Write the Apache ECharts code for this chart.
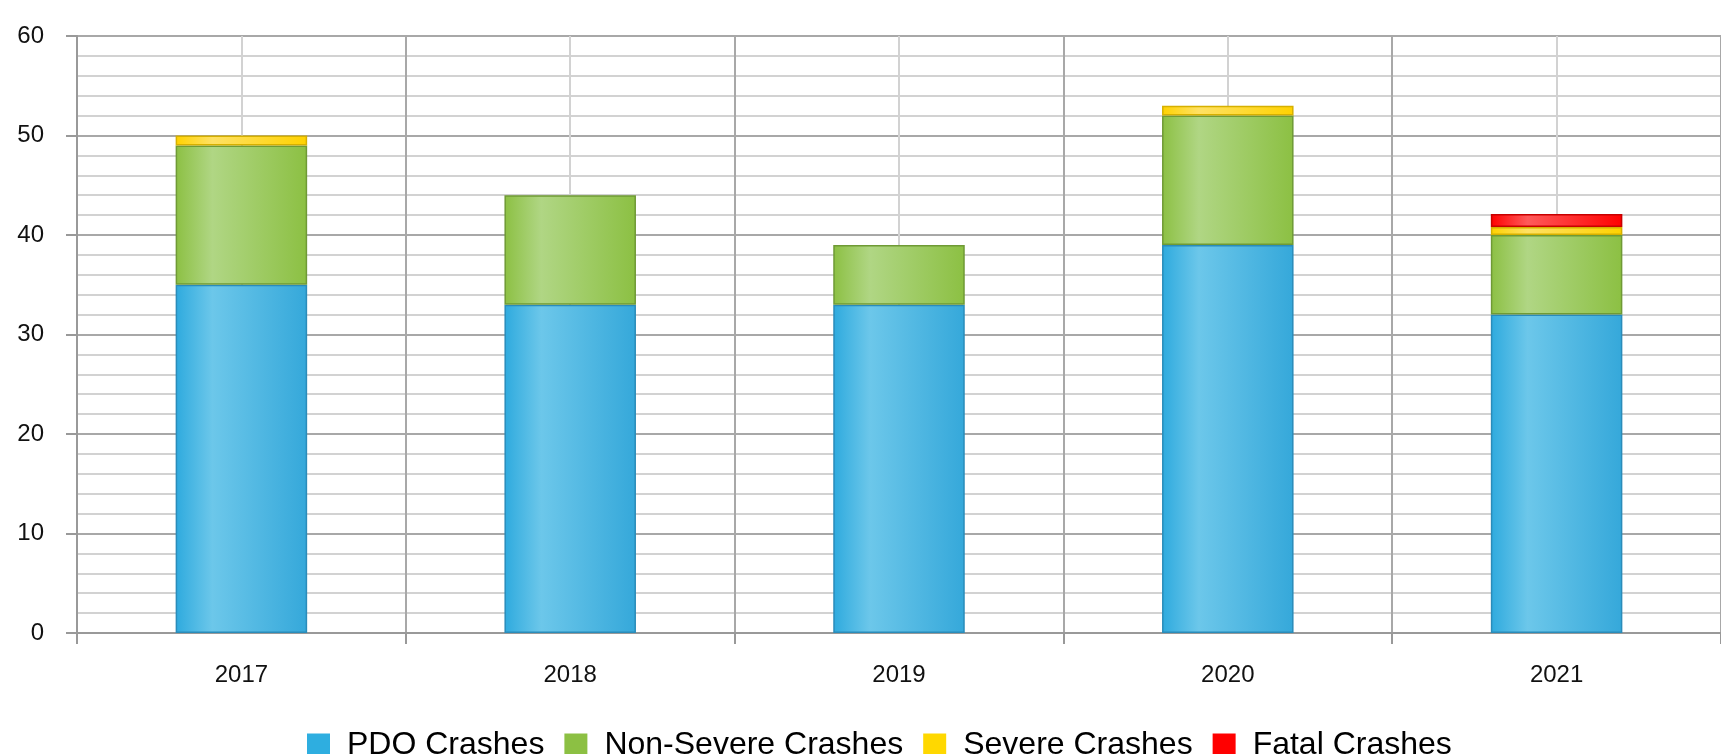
<!DOCTYPE html>
<html>
<head>
<meta charset="utf-8">
<script src="https://cdn.jsdelivr.net/npm/echarts@6/dist/echarts.min.js"></script>
<style>
html,body{margin:0;padding:0;background:#fff;}
#chart{width:1721px;height:754px;}
</style>
</head>
<body>
<div id="chart"></div>
<script>
const years = ['2017', '2018', '2019', '2020', '2021'];
const pdoCrashes = [35, 33, 33, 39, 32];
const nonSevereCrashes = [14, 11, 6, 13, 8];
const severeCrashes = [1, 0, 0, 1, 0.8];
const fatalCrashes = [0, 0, 0, 0, 1.3];
const seriesNames = ['PDO Crashes', 'Non-Severe Crashes', 'Severe Crashes', 'Fatal Crashes'];

const palette = [
  {base: '#2eaade', light: '#6cc7ea', dark: '#35a8da', border: '#2a8cba', flat: '#2eaee0'},
  {base: '#8cc043', light: '#b0d684', dark: '#8cc043', border: '#6f9a35', flat: '#8cc043'},
  {base: '#ffd200', light: '#ffe164', dark: '#ffd200', border: '#d6b000', flat: '#ffd800'},
  {base: '#ff0000', light: '#ff5a5a', dark: '#ff0000', border: '#c80000', flat: '#ff0000'}
];

function grad(p) {
  return new echarts.graphic.LinearGradient(0, 0, 1, 0, [
    {offset: 0, color: p.base},
    {offset: 0.28, color: p.light},
    {offset: 1, color: p.dark}
  ]);
}

const values = [pdoCrashes, nonSevereCrashes, severeCrashes, fatalCrashes];

const chart = echarts.init(document.getElementById('chart'));
chart.setOption({
  animation: false,
  grid: {left: 77, top: 36, width: 1650, bottom: 121, containLabel: false},
  legend: {
    left: 307, top: 729, padding: 0,
    itemWidth: 23, itemHeight: 23, itemGap: 20,
    icon: 'rect',
    textStyle: {fontSize: 32, color: '#000', fontFamily: 'Liberation Sans, Arial, sans-serif', padding: [0, 0, 0, 12]},
    data: seriesNames.map((n, i) => ({name: n, itemStyle: {color: palette[i].flat, borderWidth: 0}}))
  },
  xAxis: [
    {
      type: 'category', data: years, boundaryGap: true,
      axisLine: {lineStyle: {color: '#999', width: 2}},
      axisTick: {show: true, length: 11, lineStyle: {color: '#999', width: 2}},
      axisLabel: {fontSize: 24, color: '#111', margin: 30, fontFamily: 'Liberation Sans, Arial, sans-serif'},
      splitLine: {show: false}
    },
    {
      type: 'value', min: 0, max: 10, interval: 1, position: 'bottom',
      axisLine: {show: false}, axisTick: {show: false}, axisLabel: {show: false},
      splitLine: {show: true, lineStyle: {color: ['#a8a8a8', '#d2d2d2'], width: 2}}
    }
  ],
  yAxis: {
    type: 'value', min: 0, max: 60, interval: 10,
    axisLine: {show: true, lineStyle: {color: '#999', width: 2}},
    axisTick: {show: true, length: 11, lineStyle: {color: '#999', width: 2}},
    axisLabel: {fontSize: 24, color: '#111', margin: 33, padding: [0, 0, 10, 0], fontFamily: 'Liberation Sans, Arial, sans-serif'},
    splitLine: {show: true, lineStyle: {color: '#a8a8a8', width: 2}},
    minorTick: {show: false, splitNumber: 5},
    minorSplitLine: {show: true, lineStyle: {color: '#d2d2d2', width: 2}}
  },
  series: seriesNames.map((n, i) => ({
    name: n, type: 'bar', stack: 'total', barWidth: '40%', xAxisIndex: 0,
    data: values[i].map(v => v === 0 ? '-' : v),
    itemStyle: {color: grad(palette[i]), borderColor: palette[i].border, borderWidth: 1.5}
  }))
});
</script>
</body>
</html>
